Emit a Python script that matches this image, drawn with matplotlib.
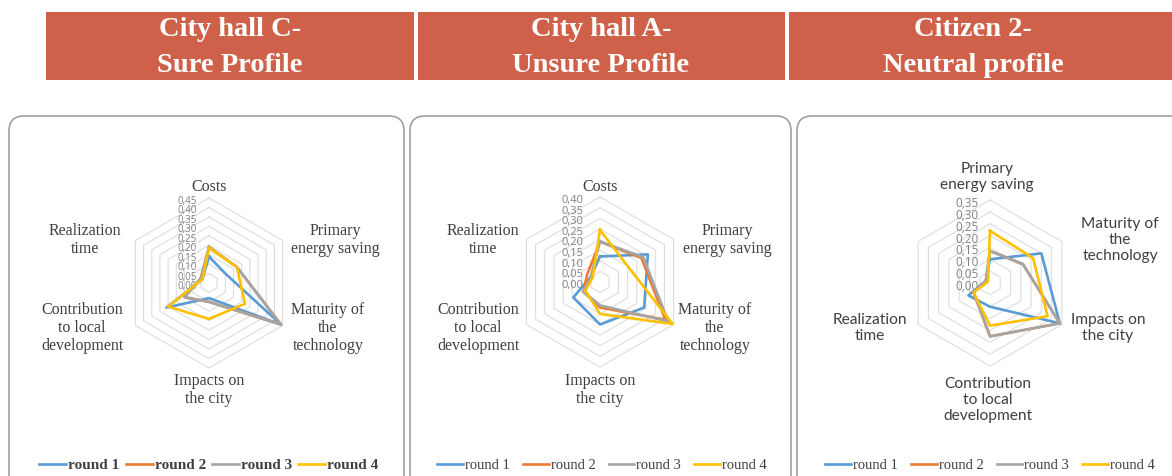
import numpy as np
import matplotlib
matplotlib.use("Agg")
import matplotlib.pyplot as plt
from matplotlib.patches import Rectangle, FancyBboxPatch
from matplotlib.transforms import ScaledTranslation

# ---------------- data ----------------
series_names = ["round 1", "round 2", "round 3", "round 4"]

titles = ["City hall C-\nSure Profile", "City hall A-\nUnsure Profile", "Citizen 2-\nNeutral profile"]

cats_ab = ["Costs", "Primary\nenergy saving", "Maturity of\nthe\ntechnology",
           "Impacts on\nthe city", "Contribution\nto local\ndevelopment", "Realization\ntime"]
cats_c = ["Primary\nenergy saving", "Maturity of\nthe\ntechnology", "Impacts on\nthe city",
          "Contribution\nto local\ndevelopment", "Realization\ntime", ""]

# City hall C (order: Costs, PES, Maturity, Impacts, Contribution, Realization)
c_round1 = [0.14, 0.10, 0.44, 0.08, 0.26, 0.04]
c_round2 = [0.19, 0.17, 0.44, 0.10, 0.15, 0.05]
c_round3 = [0.19, 0.17, 0.44, 0.10, 0.15, 0.05]
c_round4 = [0.185, 0.17, 0.22, 0.19, 0.25, 0.04]
c_ticks = [0.00, 0.05, 0.10, 0.15, 0.20, 0.25, 0.30, 0.35, 0.40, 0.45]

# City hall A
a_round1 = [0.12, 0.26, 0.24, 0.20, 0.145, 0.05]
a_round2 = [0.19, 0.225, 0.355, 0.12, 0.09, 0.07]
a_round3 = [0.19, 0.235, 0.37, 0.11, 0.09, 0.05]
a_round4 = [0.245, 0.15, 0.395, 0.15, 0.08, 0.04]
a_ticks = [0.00, 0.05, 0.10, 0.15, 0.20, 0.25, 0.30, 0.35, 0.40]

# Citizen 2 (order: PES, Maturity, Impacts, Contribution, Realization, Costs)
z_round1 = [0.10, 0.25, 0.34, 0.10, 0.105, 0.02]
z_round2 = [0.135, 0.16, 0.34, 0.225, 0.08, 0.02]
z_round3 = [0.135, 0.16, 0.34, 0.225, 0.08, 0.02]
z_round4 = [0.22, 0.21, 0.28, 0.18, 0.08, 0.01]
z_ticks = [0.00, 0.05, 0.10, 0.15, 0.20, 0.25, 0.30, 0.35]

# ---------------- style ----------------
W, H, DPI = 1172, 476, 100
colors = ["#5B9BD5", "#ED7D31", "#A5A5A5", "#FFC000"]
header_color = "#CF614A"
grid_color = "#DDDDDD"
label_color = "#404040"

fig = plt.figure(figsize=(W / DPI, H / DPI), dpi=DPI)
fig.patch.set_facecolor("white")


def px_rect(x0, y0, x1, y1):
    return x0 / DPI, (H - y1) / DPI, (x1 - x0) / DPI, (y1 - y0) / DPI


# header boxes
header_boxes = [(46, 12, 414, 80), (418, 12, 785, 80), (789, 12, 1172, 80)]
header_text_x = [230, 601, 973]
for (x0, y0, x1, y1), t, tx in zip(header_boxes, titles, header_text_x):
    l, b, w, h = px_rect(x0, y0, x1, y1)
    fig.patches.append(Rectangle((l, b), w, h, transform=fig.dpi_scale_trans,
                                 facecolor=header_color, edgecolor="none", zorder=-2))
    l1, l2 = t.split("\n")
    fig.text(tx / W, 1 - 29 / H, l1, ha="center", va="center", color="white",
             fontsize=20.5, fontweight="bold", family="Liberation Serif")
    fig.text(tx / W, 1 - 65 / H, l2, ha="center", va="center", color="white",
             fontsize=20.5, fontweight="bold", family="Liberation Serif")

# panels
panels = [(9, 116, 404, 500), (410, 116, 791, 500), (797, 116, 1190, 500)]
for (x0, y0, x1, y1) in panels:
    l, b, w, h = px_rect(x0, y0, x1, y1)
    fig.patches.append(FancyBboxPatch((l, b), w, h, transform=fig.dpi_scale_trans,
                                      boxstyle="round,pad=0,rounding_size=0.15",
                                      facecolor="white", edgecolor="#A0A0A0", lw=1.2,
                                      zorder=-1))


def radar(cx, cy, rpx, ticks, data, cats, label_offsets, label_family, label_size,
          legend_cx, legend_bold, colspace, legend_size, tick_size, tick_dx):
    rmax = ticks[-1]
    ax = fig.add_axes([(cx - rpx) / W, (H - cy - rpx) / H, 2 * rpx / W, 2 * rpx / H],
                      projection="polar")
    ax.set_theta_zero_location("N")
    ax.set_theta_direction(-1)
    ax.set_ylim(0, rmax)
    ax.set_axis_off()
    n = len(cats)
    theta = np.linspace(0, 2 * np.pi, n, endpoint=False)
    tc = np.concatenate([theta, theta[:1]])
    for r in ticks[1:]:
        ax.plot(tc, [r] * (n + 1), color=grid_color, lw=0.8, zorder=1, clip_on=False)
    handles = []
    for vals, col, name in zip(data, colors, series_names):
        v = list(vals) + [vals[0]]
        ln, = ax.plot(tc, v, color=col, lw=1.9, zorder=3, clip_on=False,
                      solid_joinstyle="round", label=name)
        handles.append(ln)
    off = ScaledTranslation(-tick_dx / DPI, -3.5 / DPI, fig.dpi_scale_trans)
    for r in ticks:
        ax.text(0, r, f"{r:.2f}".replace(".", ","), transform=ax.transData + off,
                ha="right", va="center", fontsize=tick_size, color="#808080",
                family="Open Sans", zorder=2)
    for cat, (dx, dy) in zip(cats, label_offsets):
        if not cat:
            continue
        fig.text((cx + dx) / W, 1 - (cy + dy) / H, cat, ha="center", va="center",
                 fontsize=label_size, color=label_color, family=label_family,
                 linespacing=1.2)
    leg = fig.legend(handles=handles, loc="center",
                     bbox_to_anchor=(legend_cx / W, (H - 465) / H),
                     ncol=4, frameon=False, handlelength=1.75, handletextpad=0.15,
                     columnspacing=colspace, borderpad=0,
                     prop={"family": "Liberation Serif", "size": legend_size,
                           "weight": "bold" if legend_bold else "normal"})
    for t in leg.get_texts():
        t.set_color(label_color)
    return ax


off_c = [(0, -96), (126, -43), (119, 45), (0, 107), (-127, 45), (-124, -43)]
off_a = [(0, -95), (127, -42), (115, 46), (0, 108), (-122, 46), (-117, -42)]
off_z = [(-3, -106), (130, -43), (118, 45), (-2, 117), (-120, 45), (0, 0)]

radar(209, 283, 85, c_ticks, [c_round1, c_round2, c_round3, c_round4], cats_ab, off_c,
      "Liberation Serif", 11.5, 209, True, 0.4, 11, 7.0, 12)
radar(600, 282, 85, a_ticks, [a_round1, a_round2, a_round3, a_round4], cats_ab, off_a,
      "Liberation Serif", 11.5, 602, False, 0.9, 10.5, 8.0, 16)
radar(990, 283, 83, z_ticks, [z_round1, z_round2, z_round3, z_round4], cats_c, off_z,
      "Lato", 11.2, 990, False, 0.9, 10.5, 8.5, 11)

fig.savefig("out.png", dpi=DPI)
